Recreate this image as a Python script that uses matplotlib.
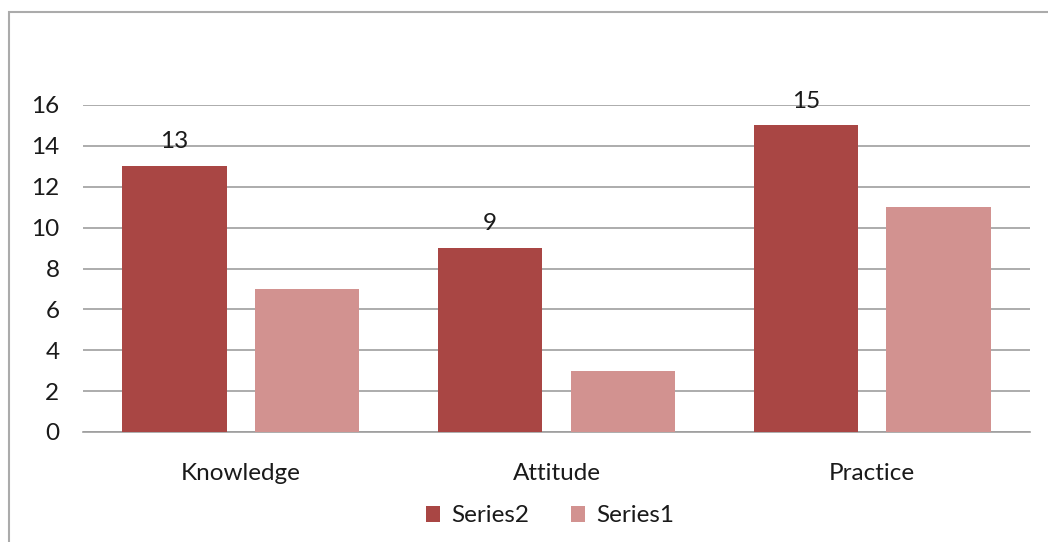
import matplotlib
matplotlib.use("Agg")
import matplotlib.pyplot as plt
import matplotlib.patches as mpatches
import numpy as np

categories = ["Knowledge", "Attitude", "Practice"]
series2 = [13, 9, 15]
series1 = [7, 3, 11]
yticks = [0, 2, 4, 6, 8, 10, 12, 14, 16]

c2 = "#A94644"
c1 = "#D29290"
grid_c = "#9E9E9E"
text_c = "#1a1a1a"
fs = 17.5

plt.rcParams["font.family"] = ["Lato", "DejaVu Sans"]

fig = plt.figure(figsize=(10.48, 5.42), dpi=100)
ax = fig.add_axes([83 / 1048, 1 - 432 / 542, (1030 - 83) / 1048, (432 - 105) / 542])

x = np.arange(len(categories))
w = 0.33
off = 0.21
b2 = ax.bar(x - off, series2, width=w, color=c2, label="Series2", zorder=3)
b1 = ax.bar(x + off, series1, width=w, color=c1, label="Series1", zorder=3)

for rect, v in zip(b2, series2):
    ax.annotate(f"{v}", (rect.get_x() + rect.get_width() / 2, v),
                xytext=(0, 10), textcoords="offset points",
                ha="center", va="bottom", fontsize=fs, color=text_c)

ax.set_xlim(-0.5, len(categories) - 0.5)
ax.set_ylim(0, 16)
ax.set_yticks(yticks)
ax.set_yticklabels([str(t) for t in yticks], fontsize=fs, color=text_c)
ax.set_xticks(x)
ax.set_xticklabels(categories, fontsize=fs, color=text_c)
ax.tick_params(axis="both", length=0)
ax.tick_params(axis="y", pad=17)
ax.tick_params(axis="x", pad=22)
ax.yaxis.grid(True, color=grid_c, linewidth=1.2, zorder=0)
for s in ["top", "right", "left"]:
    ax.spines[s].set_visible(False)
ax.spines["bottom"].set_color(grid_c)
ax.spines["bottom"].set_linewidth(1.2)

leg = fig.legend(handles=[b2, b1], labels=["Series2", "Series1"],
                 loc="center", bbox_to_anchor=(550 / 1048, 1 - 516 / 542),
                 ncol=2, frameon=False, fontsize=fs, handlelength=0.6,
                 handleheight=0.6, handletextpad=0.45, columnspacing=1.7)
for t in leg.get_texts():
    t.set_color(text_c)

fig.patches.append(mpatches.Rectangle((9 / 1048, -0.1), 1.2, 1 - 12 / 542 + 0.1,
                                      transform=fig.transFigure, fill=False,
                                      edgecolor="#ABABAB", linewidth=1.5))

fig.savefig("out.png", dpi=100)
